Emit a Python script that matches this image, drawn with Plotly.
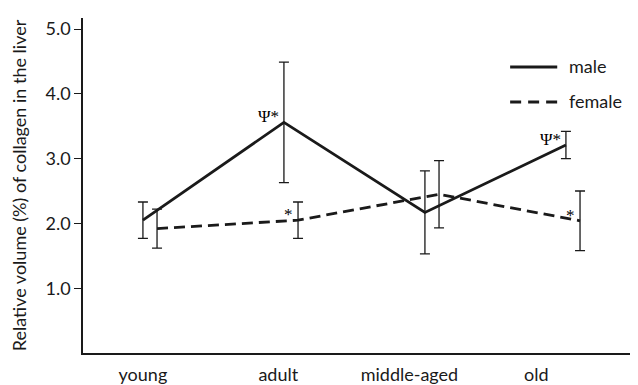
import plotly.graph_objects as go

# ---- data ----
categories = ["young", "adult", "middle-aged", "old"]
male_mean = [2.05, 3.56, 2.17, 3.21]
male_err = [0.28, 0.93, 0.64, 0.21]
female_mean = [1.92, 2.05, 2.45, 2.04]
female_err = [0.30, 0.28, 0.52, 0.46]
male_marks = ["", "Ψ*", "", "Ψ*"]
female_marks = ["", "*", "", "*"]
y_ticks = [1.0, 2.0, 3.0, 4.0, 5.0]

# ---- layout constants ----
OFFSET = 0.05
label_pos = [-0.05, 0.91, 1.84, 2.74]
idx = list(range(len(categories)))
x_male = [i - OFFSET for i in idx]
x_female = [i + OFFSET for i in idx]
INK = "#1a1a1a"
FONT = "Lato"
# page body has an 8px default margin; size the figure to fit the window
BODY = 8

fig = go.Figure()
fig.add_trace(go.Scatter(
    x=x_male, y=male_mean, mode="lines", name="male",
    line=dict(color=INK, width=2.8),
    error_y=dict(type="data", array=male_err, visible=True,
                 color=INK, thickness=1.3, width=5),
    showlegend=False))
fig.add_trace(go.Scatter(
    x=x_female, y=female_mean, mode="lines", name="female",
    line=dict(color=INK, width=2.8, dash="11px,6px"),
    error_y=dict(type="data", array=female_err, visible=True,
                 color=INK, thickness=1.3, width=5),
    showlegend=False))

annotations = []
for xs, ys, marks in ((x_male, male_mean, male_marks), (x_female, female_mean, female_marks)):
    for x, y, m in zip(xs, ys, marks):
        if m:
            annotations.append(dict(
                x=x, y=y, text=m, showarrow=False, xanchor="right", yanchor="bottom",
                xshift=-3, yshift=-6,
                font=dict(family="Liberation Serif", size=17, color="black")))

# legend (drawn manually for long line samples)
shapes = [
    dict(type="line", xref="paper", yref="paper", x0=0.771, x1=0.856, y0=0.854, y1=0.854,
         line=dict(color=INK, width=3)),
    dict(type="line", xref="paper", yref="paper", x0=0.771, x1=0.856, y0=0.749, y1=0.749,
         line=dict(color=INK, width=3, dash="11px,7px")),
]
annotations += [
    dict(xref="paper", yref="paper", x=0.874, y=0.856, text="male", showarrow=False,
         xanchor="left", yanchor="middle", font=dict(family=FONT, size=18, color=INK)),
    dict(xref="paper", yref="paper", x=0.874, y=0.751, text="female", showarrow=False,
         xanchor="left", yanchor="middle", font=dict(family=FONT, size=18, color=INK)),
]

fig.update_layout(
    template="none",
    width=638 - BODY, height=385 - BODY,
    margin=dict(l=83 - BODY, r=1, t=18 - BODY, b=32, autoexpand=False),
    plot_bgcolor="white", paper_bgcolor="white",
    shapes=shapes, annotations=annotations,
    font=dict(family=FONT, size=18, color=INK),
    xaxis=dict(range=[-0.475, 3.454], showgrid=False, zeroline=False, automargin=False,
               showline=True, linecolor=INK, linewidth=1.5,
               tickmode="array", tickvals=label_pos, ticktext=categories,
               ticks="outside", ticklen=5, tickcolor="rgba(0,0,0,0)",
               tickfont=dict(family=FONT, size=18, color=INK)),
    yaxis=dict(range=[0, 5.17], showgrid=False, zeroline=False, automargin=False,
               showline=True, linecolor=INK, linewidth=1.5,
               tickmode="array", tickvals=y_ticks,
               ticktext=[f"{v:.1f}" for v in y_ticks],
               ticks="outside", ticklen=7, tickwidth=1.3, tickcolor=INK,
               tickfont=dict(family=FONT, size=18, color=INK),
               title=dict(text="Relative volume (%) of collagen in the liver",
                          font=dict(family=FONT, size=18, color=INK), standoff=16)),
)

fig.write_html("out.html")
